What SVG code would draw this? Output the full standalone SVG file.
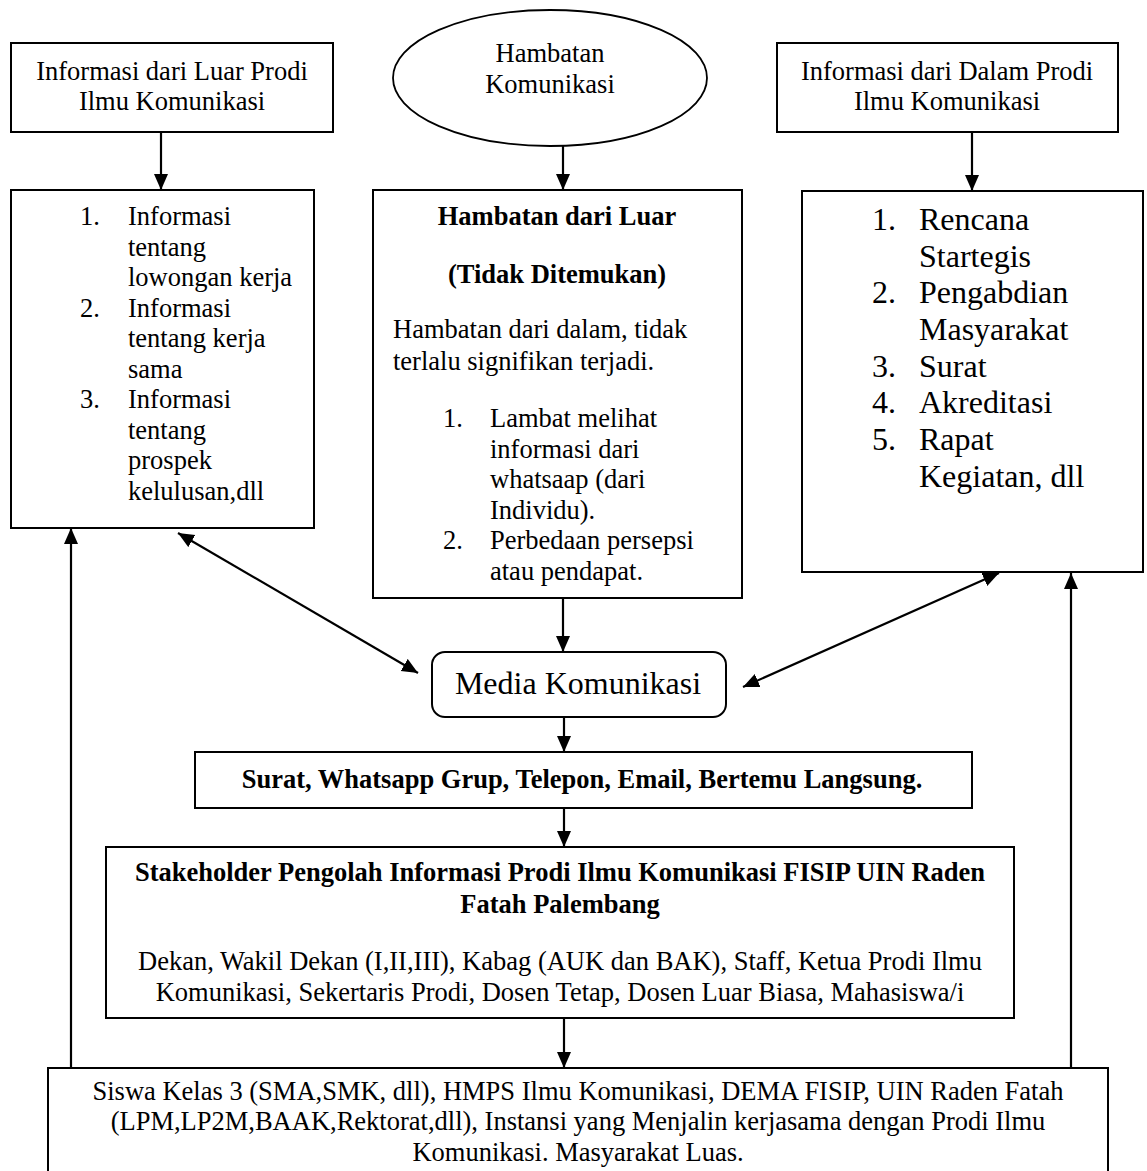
<svg xmlns="http://www.w3.org/2000/svg" width="1147" height="1171" viewBox="0 0 1147 1171">
<style>
  text { font-family: "Liberation Serif", "Times New Roman", serif; fill: #000; }
  .t { font-size: 26.5px; }
  .b { font-size: 26.5px; font-weight: bold; }
  .L { font-size: 32px; }
  .c { text-anchor: middle; }
  .box { fill: #fff; stroke: #000; stroke-width: 2; }
  .con { stroke: #000; stroke-width: 2.2; fill: none; }
</style>
<defs>
  <marker id="ah" markerUnits="userSpaceOnUse" markerWidth="17" markerHeight="15" refX="16" refY="7" orient="auto-start-reverse">
    <path d="M0,0 L16,7 L0,14 z" fill="#000"/>
  </marker>
</defs>
<rect width="1147" height="1171" fill="#fff"/>

<g id="connectors">
  <line class="con" x1="161" y1="132" x2="161" y2="190" marker-end="url(#ah)"/>
  <line class="con" x1="563" y1="146" x2="563" y2="190" marker-end="url(#ah)"/>
  <line class="con" x1="972" y1="132" x2="972" y2="191" marker-end="url(#ah)"/>
  <line class="con" x1="563" y1="598" x2="563" y2="652" marker-end="url(#ah)"/>
  <line class="con" x1="178" y1="533" x2="418" y2="673" marker-start="url(#ah)" marker-end="url(#ah)"/>
  <line class="con" x1="999" y1="573" x2="743" y2="687" marker-start="url(#ah)" marker-end="url(#ah)"/>
  <line class="con" x1="564" y1="717" x2="564" y2="752" marker-end="url(#ah)"/>
  <line class="con" x1="564" y1="808" x2="564" y2="847" marker-end="url(#ah)"/>
  <line class="con" x1="564" y1="1018" x2="564" y2="1068" marker-end="url(#ah)"/>
  <line class="con" x1="71" y1="1068" x2="71" y2="528" marker-end="url(#ah)"/>
  <line class="con" x1="1071" y1="1068" x2="1071" y2="573" marker-end="url(#ah)"/>
</g>

<g id="info-luar">
  <rect class="box" x="11" y="43" width="322" height="89"/>
  <text class="t c" x="172" y="80">Informasi dari Luar Prodi</text>
  <text class="t c" x="172" y="110">Ilmu Komunikasi</text>
</g>

<g id="hambatan-komunikasi">
  <ellipse cx="550" cy="78" rx="157" ry="68" fill="#fff" stroke="#000" stroke-width="1.8"/>
  <text class="t c" x="550" y="62">Hambatan</text>
  <text class="t c" x="550" y="93">Komunikasi</text>
</g>

<g id="info-dalam">
  <rect class="box" x="777" y="43" width="341" height="89"/>
  <text class="t c" x="947" y="80">Informasi dari Dalam Prodi</text>
  <text class="t c" x="947" y="110">Ilmu Komunikasi</text>
</g>

<g id="list-luar">
  <rect class="box" x="11" y="190" width="303" height="338"/>
  <text class="t" x="80" y="225">1.</text>
  <text class="t" x="128" y="225">Informasi</text>
  <text class="t" x="128" y="255.5">tentang</text>
  <text class="t" x="128" y="286">lowongan kerja</text>
  <text class="t" x="80" y="316.5">2.</text>
  <text class="t" x="128" y="316.5">Informasi</text>
  <text class="t" x="128" y="347">tentang kerja</text>
  <text class="t" x="128" y="377.5">sama</text>
  <text class="t" x="80" y="408">3.</text>
  <text class="t" x="128" y="408">Informasi</text>
  <text class="t" x="128" y="438.5">tentang</text>
  <text class="t" x="128" y="469">prospek</text>
  <text class="t" x="128" y="499.5">kelulusan,dll</text>
</g>

<g id="hambatan-detail">
  <rect class="box" x="373" y="190" width="369" height="408"/>
  <text class="b c" x="557" y="225">Hambatan dari Luar</text>
  <text class="b c" x="557" y="283">(Tidak Ditemukan)</text>
  <text class="t" x="393" y="338">Hambatan dari dalam, tidak</text>
  <text class="t" x="393" y="370">terlalu signifikan terjadi.</text>
  <text class="t" x="443" y="427">1.</text>
  <text class="t" x="490" y="427">Lambat melihat</text>
  <text class="t" x="490" y="457.5">informasi dari</text>
  <text class="t" x="490" y="488">whatsaap (dari</text>
  <text class="t" x="490" y="518.5">Individu).</text>
  <text class="t" x="443" y="549">2.</text>
  <text class="t" x="490" y="549">Perbedaan persepsi</text>
  <text class="t" x="490" y="579.5">atau pendapat.</text>
</g>

<g id="list-dalam">
  <rect class="box" x="802" y="191" width="341" height="381"/>
  <text class="L" x="872" y="230">1.</text>
  <text class="L" x="919" y="230">Rencana</text>
  <text class="L" x="919" y="266.7">Startegis</text>
  <text class="L" x="872" y="303.3">2.</text>
  <text class="L" x="919" y="303.3">Pengabdian</text>
  <text class="L" x="919" y="340">Masyarakat</text>
  <text class="L" x="872" y="376.7">3.</text>
  <text class="L" x="919" y="376.7">Surat</text>
  <text class="L" x="872" y="413.3">4.</text>
  <text class="L" x="919" y="413.3">Akreditasi</text>
  <text class="L" x="872" y="450">5.</text>
  <text class="L" x="919" y="450">Rapat</text>
  <text class="L" x="919" y="486.7">Kegiatan, dll</text>
</g>

<g id="media-komunikasi">
  <rect class="box" x="432" y="652" width="294" height="65" rx="13" ry="13"/>
  <text class="L c" x="578" y="694">Media Komunikasi</text>
</g>

<g id="media-list">
  <rect class="box" x="195" y="752" width="777" height="56"/>
  <text class="b c" x="582" y="788">Surat, Whatsapp Grup, Telepon, Email, Bertemu Langsung.</text>
</g>

<g id="stakeholder">
  <rect class="box" x="106" y="847" width="908" height="171"/>
  <text class="b c" x="560" y="881">Stakeholder Pengolah Informasi Prodi Ilmu Komunikasi FISIP UIN Raden</text>
  <text class="b c" x="560" y="913">Fatah Palembang</text>
  <text class="t c" x="560" y="970">Dekan, Wakil Dekan (I,II,III), Kabag (AUK dan BAK), Staff, Ketua Prodi Ilmu</text>
  <text class="t c" x="560" y="1001">Komunikasi, Sekertaris Prodi, Dosen Tetap, Dosen Luar Biasa, Mahasiswa/i</text>
</g>

<g id="penerima">
  <rect class="box" x="48" y="1068" width="1060" height="120"/>
  <text class="t c" x="578" y="1100">Siswa Kelas 3 (SMA,SMK, dll), HMPS Ilmu Komunikasi, DEMA FISIP, UIN Raden Fatah</text>
  <text class="t c" x="578" y="1130">(LPM,LP2M,BAAK,Rektorat,dll), Instansi yang Menjalin kerjasama dengan Prodi Ilmu</text>
  <text class="t c" x="578" y="1161">Komunikasi. Masyarakat Luas.</text>
</g>
</svg>
